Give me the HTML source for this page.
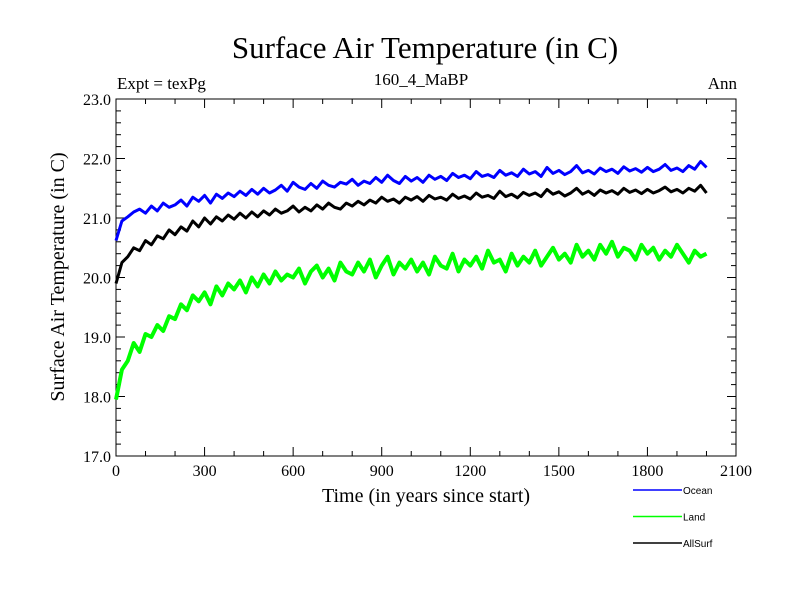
<!DOCTYPE html>
<html><head><meta charset="utf-8"><style>
body{margin:0;background:#fff}
svg{display:block}
text{font-family:"Liberation Serif",serif;fill:#000}
</style></head><body>
<svg id="chart" width="800" height="600">
<text x="425" y="58" font-size="31" text-anchor="middle">Surface Air Temperature (in C)</text>
<text x="117" y="89" font-size="17">Expt = texPg</text>
<text x="421" y="85" font-size="17" text-anchor="middle">160_4_MaBP</text>
<text x="737" y="89" font-size="17" text-anchor="end">Ann</text>
<text transform="translate(64,277) rotate(-90)" font-size="20" text-anchor="middle">Surface Air Temperature (in C)</text>
<text x="426" y="502" font-size="20" text-anchor="middle">Time (in years since start)</text>
<g id="axes"></g>
<g id="series"></g>
<g id="legend"></g>
</svg>
<script>
const xTicks=[0,300,600,900,1200,1500,1800,2100];
const yTicks=[17.0,18.0,19.0,20.0,21.0,22.0,23.0];
const years=[];for(let i=0;i<=100;i++)years.push(i*20);
const ocean=[20.62,20.95,21.02,21.10,21.15,21.08,21.20,21.12,21.25,21.18,
21.22,21.30,21.20,21.35,21.28,21.38,21.25,21.40,21.33,21.42,
21.36,21.45,21.38,21.48,21.40,21.50,21.42,21.47,21.55,21.45,
21.60,21.52,21.48,21.58,21.50,21.62,21.55,21.52,21.60,21.57,
21.65,21.55,21.62,21.58,21.68,21.60,21.72,21.63,21.58,21.70,
21.62,21.68,21.60,21.72,21.65,21.70,21.63,21.75,21.68,21.72,
21.66,21.78,21.70,21.73,21.68,21.80,21.72,21.76,21.70,21.82,
21.74,21.78,21.70,21.85,21.75,21.80,21.73,21.78,21.88,21.76,
21.80,21.74,21.84,21.78,21.82,21.75,21.86,21.79,21.83,21.77,
21.85,21.78,21.82,21.90,21.80,21.84,21.78,21.88,21.82,21.95,21.85];
const land=[17.95,18.45,18.60,18.90,18.75,19.05,19.00,19.20,19.10,19.35,
19.30,19.55,19.45,19.70,19.60,19.75,19.55,19.85,19.70,19.90,
19.80,19.95,19.75,20.00,19.85,20.05,19.90,20.10,19.95,20.05,
20.00,20.15,19.90,20.10,20.20,20.00,20.15,19.95,20.25,20.10,
20.05,20.25,20.10,20.30,20.00,20.20,20.35,20.05,20.25,20.15,
20.30,20.10,20.25,20.05,20.35,20.20,20.15,20.40,20.10,20.30,
20.20,20.35,20.15,20.45,20.25,20.30,20.10,20.40,20.20,20.35,
20.25,20.45,20.20,20.35,20.50,20.30,20.40,20.25,20.55,20.35,
20.45,20.30,20.55,20.40,20.60,20.35,20.50,20.45,20.30,20.55,
20.40,20.50,20.30,20.45,20.35,20.55,20.40,20.25,20.45,20.35,20.40];
const allSurf=[19.90,20.25,20.35,20.50,20.45,20.62,20.55,20.70,20.65,20.80,
20.72,20.85,20.78,20.95,20.85,21.00,20.90,21.02,20.95,21.05,
20.98,21.08,21.00,21.10,21.02,21.12,21.05,21.15,21.08,21.12,
21.20,21.10,21.18,21.12,21.22,21.15,21.25,21.18,21.15,21.25,
21.20,21.28,21.22,21.30,21.25,21.35,21.28,21.32,21.25,21.35,
21.30,21.36,21.28,21.38,21.32,21.35,21.30,21.40,21.33,21.37,
21.32,21.42,21.35,21.38,21.33,21.45,21.36,21.40,21.34,21.43,
21.38,21.42,21.36,21.48,21.40,21.44,21.37,21.42,21.50,21.40,
21.45,21.38,21.47,21.42,21.46,21.40,21.50,21.43,21.47,21.41,
21.48,21.42,21.46,21.52,21.44,21.48,21.42,21.50,21.45,21.55,21.42];
const seriesNames=["Ocean","Land","AllSurf"];
const seriesColors=["#0000ff","#00ff00","#000000"];
const NS="http://www.w3.org/2000/svg";
const L=116,R=736,T=99,B=456,x0=0,x1=2100,y0=17,y1=23;
const sx=v=>L+(v-x0)/(x1-x0)*(R-L);
const sy=v=>B-(v-y0)/(y1-y0)*(B-T);
function mk(tag,attrs,parent){const e=document.createElementNS(NS,tag);for(const k in attrs)e.setAttribute(k,attrs[k]);parent.appendChild(e);return e;}
const ax=document.getElementById('axes');
const frame=mk('rect',{x:L,y:T,width:R-L,height:B-T,fill:'none',stroke:'#000','stroke-width':1},ax);


for(let v=0;v<=2100;v+=100){const major=v%300===0;const len=major?9:5;
 mk('line',{x1:sx(v),x2:sx(v),y1:B,y2:B-len,stroke:'#000'},ax);
 mk('line',{x1:sx(v),x2:sx(v),y1:T,y2:T+len,stroke:'#000'},ax);}
for(let i=0;i<=30;i++){const v=17+i*0.2;const major=i%5===0;const len=major?9:5;
 mk('line',{x1:L,x2:L+len,y1:sy(v),y2:sy(v),stroke:'#000'},ax);
 mk('line',{x1:R,x2:R-len,y1:sy(v),y2:sy(v),stroke:'#000'},ax);}
xTicks.forEach(v=>{const t=mk('text',{x:sx(v),y:B+20,'font-size':16,'text-anchor':'middle'},ax);t.textContent=String(v);
 
 });
yTicks.forEach(v=>{const t=mk('text',{x:L-5,y:sy(v)+6,'font-size':16,'text-anchor':'end'},ax);t.textContent=v.toFixed(1);
 
 });
const widths=[3,4,3];
const sg=document.getElementById('series');
[ocean,land,allSurf].forEach((d,i)=>{
 const pts=d.map((v,j)=>sx(years[j]).toFixed(1)+','+sy(v).toFixed(1)).join(' ');
 const p=mk('polyline',{points:pts,fill:'none',stroke:seriesColors[i],'stroke-width':widths[i],'stroke-linejoin':'round'},sg);
 
 
});
const lg=document.getElementById('legend');
seriesNames.forEach((n,i)=>{const y=490+i*26.5;
 const l=mk('line',{x1:633,x2:682,y1:y,y2:y,stroke:seriesColors[i],'stroke-width':1.5},lg);
 
 
 const t=mk('text',{x:683,y:y+4,'font-size':10,style:'font-family:"Liberation Sans",sans-serif'},lg);t.textContent=n;
 
 
});
</script>
</body></html>
